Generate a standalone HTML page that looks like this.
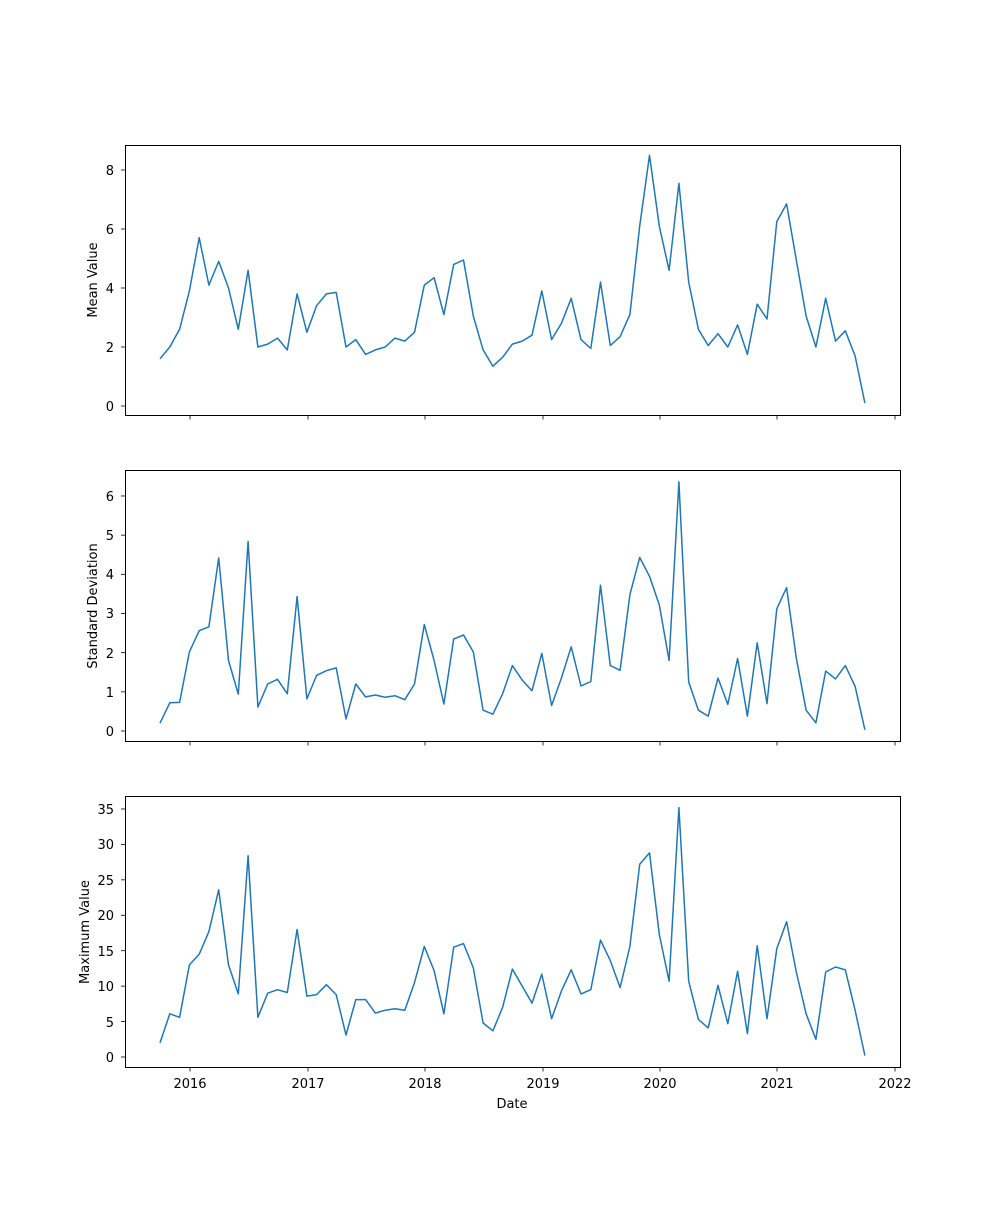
<!DOCTYPE html>
<html><head><meta charset="utf-8"><style>
html,body{margin:0;padding:0;background:#fff}
svg text{font-family:"DejaVu Sans","Liberation Sans",sans-serif;font-size:13px;fill:#000}
</style></head><body>
<svg id="s" width="1000" height="1200" xmlns="http://www.w3.org/2000/svg">
<rect width="1000" height="1200" fill="#fff"/>
<!-- panel 1 -->
<g text-anchor="end">
<text x="114" y="411">0</text><text x="114" y="352">2</text><text x="114" y="293">4</text><text x="114" y="234">6</text><text x="114" y="175">8</text>
<text x="114" y="736">0</text><text x="114" y="697">1</text><text x="114" y="658">2</text><text x="114" y="618">3</text><text x="114" y="579">4</text><text x="114" y="540">5</text><text x="114" y="501">6</text>
<text x="114" y="1062">0</text><text x="114" y="1027">5</text><text x="114" y="991">10</text><text x="114" y="956">15</text><text x="114" y="920">20</text><text x="114" y="885">25</text><text x="114" y="849">30</text><text x="114" y="814">35</text>
</g>
<g text-anchor="middle">
<text x="190" y="1088">2016</text><text x="308" y="1088">2017</text><text x="425" y="1088">2018</text><text x="543" y="1088">2019</text><text x="660" y="1088">2020</text><text x="777" y="1088">2021</text><text x="895" y="1088">2022</text>
<text x="512" y="1108">Date</text>
<text transform="translate(97,280) rotate(-90)">Mean Value</text>
<text transform="translate(97,606) rotate(-90)">Standard Deviation</text>
<text transform="translate(89,932) rotate(-90)">Maximum Value</text>
</g>
<g id="g"></g>
</svg>
<script>
const NS="http://www.w3.org/2000/svg",g=document.getElementById('g');
function el(t,a){const e=document.createElementNS(NS,t);for(const k in a)e.setAttribute(k,a[k]);g.appendChild(e);return e;}
const panels=[
{top:145,bot:415,y0:406,s:29.5,ticks:[0,2,4,6,8],d:[1.6,2.0,2.6,3.9,5.7,4.1,4.9,4.0,2.6,4.6,2.0,2.1,2.3,1.9,3.8,2.5,3.4,3.8,3.85,2.0,2.25,1.75,1.9,2.0,2.3,2.2,2.5,4.1,4.35,3.1,4.8,4.95,3.05,1.9,1.35,1.65,2.1,2.2,2.4,3.9,2.25,2.8,3.65,2.25,1.95,4.2,2.05,2.35,3.1,6.1,8.5,6.1,4.6,7.55,4.2,2.6,2.05,2.45,2.0,2.75,1.75,3.45,2.95,6.25,6.85,4.95,3.05,2.0,3.65,2.2,2.55,1.7,0.1]},
{top:470,bot:741,y0:731,s:39.17,ticks:[0,1,2,3,4,5,6],d:[0.2,0.72,0.73,2.02,2.56,2.66,4.42,1.8,0.94,4.84,0.61,1.2,1.32,0.95,3.43,0.82,1.42,1.54,1.61,0.31,1.2,0.87,0.92,0.86,0.9,0.8,1.2,2.72,1.8,0.69,2.35,2.45,2.02,0.53,0.43,0.95,1.67,1.3,1.03,1.98,0.65,1.35,2.15,1.15,1.26,3.72,1.67,1.55,3.48,4.43,3.95,3.22,1.8,6.36,1.25,0.53,0.38,1.35,0.68,1.85,0.38,2.25,0.7,3.12,3.66,1.86,0.53,0.21,1.53,1.33,1.67,1.14,0.03]},
{top:796,bot:1067,y0:1057,s:7.086,ticks:[0,5,10,15,20,25,30,35],d:[2.0,6.1,5.6,13.0,14.5,17.7,23.6,13.0,8.9,28.4,5.6,9.0,9.5,9.1,18.0,8.6,8.8,10.2,8.8,3.1,8.1,8.1,6.2,6.6,6.8,6.6,10.5,15.6,12.2,6.1,15.5,16.0,12.6,4.8,3.7,7.0,12.4,10.0,7.6,11.7,5.4,9.3,12.3,8.9,9.5,16.5,13.6,9.8,15.6,27.2,28.8,17.3,10.7,35.2,10.7,5.3,4.1,10.1,4.7,12.1,3.3,15.7,5.4,15.3,19.1,12.0,6.1,2.5,12.0,12.7,12.3,6.6,0.2]}];
const xt=[190,308,425,543,660,777,895];
for(const p of panels){
 el('polyline',{points:p.d.map((v,i)=>(160+i*9.79).toFixed(1)+','+(p.y0-v*p.s).toFixed(1)).join(' '),fill:'none',stroke:'#1f77b4','stroke-width':1.5,'stroke-linejoin':'round'});
 el('rect',{x:125.5,y:p.top+.5,width:775,height:p.bot-p.top,fill:'none',stroke:'#000','stroke-width':1});
 for(const t of p.ticks){const y=p.y0-t*p.s;el('line',{x1:121,x2:125.5,y1:y,y2:y,stroke:'#000','stroke-width':0.8});}
 for(const x of xt)el('line',{x1:x,x2:x,y1:p.bot+.5,y2:p.bot+4.5,stroke:'#000','stroke-width':0.8});
}
</script>
</body></html>
